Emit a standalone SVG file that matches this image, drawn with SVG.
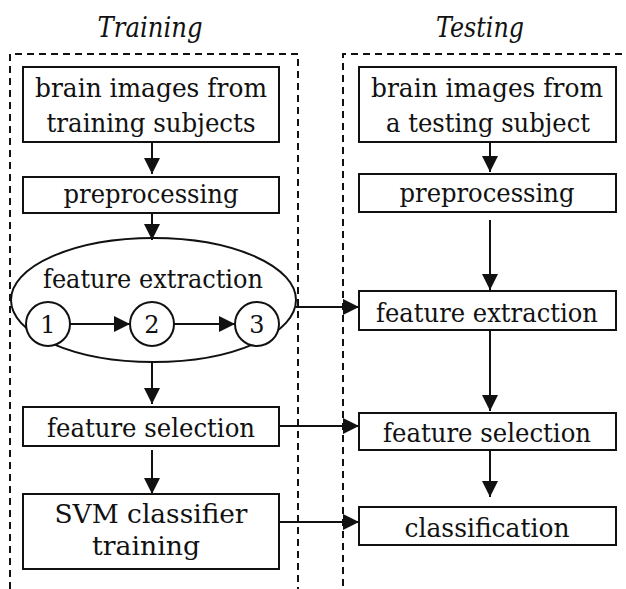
<svg xmlns="http://www.w3.org/2000/svg" width="626" height="589" viewBox="0 0 626 589">
<style>
text{font-family:'DejaVu Serif','Liberation Serif',serif;font-size:26.5px;fill:#111;text-anchor:middle}
.title{font-style:italic;font-size:27px}
.num{font-size:24px}
.box{fill:#fff;stroke:#111;stroke-width:2}
.dash{fill:none;stroke:#111;stroke-width:2;stroke-dasharray:7 5}
.conn line{stroke:#111;stroke-width:2}
</style>
<defs>
<marker id="ah" markerUnits="userSpaceOnUse" markerWidth="16" markerHeight="16" viewBox="0 0 16 16" refX="16" refY="8" orient="auto">
<path d="M0,0 L16,8 L0,16 Z" fill="#111"/>
</marker>
</defs>
<rect width="626" height="589" fill="#fff"/>
<g id="frames">
<path class="dash" d="M10,589 V54 H298 V589"/>
<path class="dash" d="M343,586 V54 H626"/>
<text class="title" x="150" y="37" textLength="105" lengthAdjust="spacingAndGlyphs">Training</text>
<text class="title" x="480" y="37" textLength="88" lengthAdjust="spacingAndGlyphs">Testing</text>
</g>
<g id="tr-images">
<rect class="box" x="23" y="67" width="256" height="75"/>
<text x="151" y="97" textLength="232" lengthAdjust="spacingAndGlyphs">brain images from</text>
<text x="151" y="132" textLength="209" lengthAdjust="spacingAndGlyphs">training subjects</text>
</g>
<g id="tr-preproc">
<rect class="box" x="23" y="177" width="256" height="36"/>
<text x="151" y="203" textLength="175" lengthAdjust="spacingAndGlyphs">preprocessing</text>
</g>
<g id="tr-extract">
<ellipse cx="153.5" cy="300" rx="142.5" ry="62" fill="none" stroke="#111" stroke-width="2"/>
<text x="153" y="288" textLength="220" lengthAdjust="spacingAndGlyphs">feature extraction</text>
</g>
<g id="c1"><circle cx="48" cy="324" r="22" fill="#fff" stroke="#111" stroke-width="2"/><text class="num" x="48" y="333">1</text></g>
<g id="c2"><circle cx="152" cy="324" r="22" fill="#fff" stroke="#111" stroke-width="2"/><text class="num" x="152" y="333">2</text></g>
<g id="c3"><circle cx="257" cy="324" r="22" fill="#fff" stroke="#111" stroke-width="2"/><text class="num" x="257" y="333">3</text></g>
<g id="tr-select">
<rect class="box" x="23" y="407" width="256" height="39"/>
<text x="151" y="437" textLength="208" lengthAdjust="spacingAndGlyphs">feature selection</text>
</g>
<g id="tr-svm">
<rect class="box" x="23" y="494" width="256" height="75"/>
<text x="151" y="523" textLength="193" lengthAdjust="spacingAndGlyphs">SVM classifier</text>
<text x="146" y="555" textLength="108" lengthAdjust="spacingAndGlyphs">training</text>
</g>
<g id="te-images">
<rect class="box" x="359" y="67" width="257" height="75"/>
<text x="487" y="97" textLength="232" lengthAdjust="spacingAndGlyphs">brain images from</text>
<text x="488" y="132" textLength="204" lengthAdjust="spacingAndGlyphs">a testing subject</text>
</g>
<g id="te-preproc">
<rect class="box" x="359" y="174" width="257" height="38"/>
<text x="487" y="202" textLength="175" lengthAdjust="spacingAndGlyphs">preprocessing</text>
</g>
<g id="te-extract">
<rect class="box" x="359" y="291" width="257" height="39"/>
<text x="487" y="322" textLength="222" lengthAdjust="spacingAndGlyphs">feature extraction</text>
</g>
<g id="te-select">
<rect class="box" x="359" y="413" width="257" height="37"/>
<text x="487" y="442" textLength="208" lengthAdjust="spacingAndGlyphs">feature selection</text>
</g>
<g id="te-classify">
<rect class="box" x="359" y="507" width="257" height="38"/>
<text x="487" y="537" textLength="165" lengthAdjust="spacingAndGlyphs">classification</text>
</g>
<g class="conn" id="connectors">
<line x1="152" y1="142" x2="152" y2="174" marker-end="url(#ah)"/>
<line x1="152" y1="213" x2="152" y2="240" marker-end="url(#ah)"/>
<line x1="70" y1="324" x2="130" y2="324" marker-end="url(#ah)"/>
<line x1="174" y1="324" x2="235" y2="324" marker-end="url(#ah)"/>
<line x1="152" y1="362" x2="152" y2="404" marker-end="url(#ah)"/>
<line x1="152" y1="450" x2="152" y2="494" marker-end="url(#ah)"/>
<line x1="490" y1="142" x2="490" y2="172" marker-end="url(#ah)"/>
<line x1="490" y1="220" x2="490" y2="290" marker-end="url(#ah)"/>
<line x1="490" y1="330" x2="490" y2="411" marker-end="url(#ah)"/>
<line x1="490" y1="450" x2="490" y2="497" marker-end="url(#ah)"/>
<line x1="296" y1="307" x2="359" y2="307" marker-end="url(#ah)"/>
<line x1="279" y1="426" x2="359" y2="426" marker-end="url(#ah)"/>
<line x1="279" y1="522" x2="359" y2="522" marker-end="url(#ah)"/>
</g>
</svg>
